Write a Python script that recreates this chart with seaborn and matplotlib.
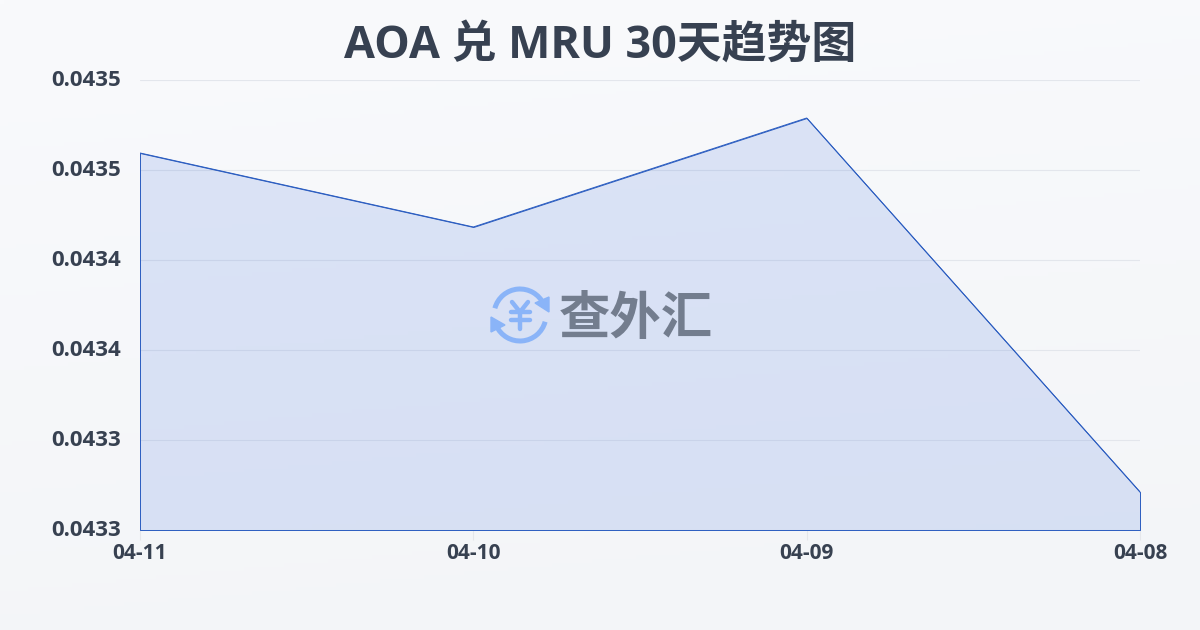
import numpy as np
import pandas as pd
import matplotlib
matplotlib.use("Agg")
import matplotlib.pyplot as plt
from matplotlib.patches import Arc, Polygon
from matplotlib.transforms import ScaledTranslation
import seaborn as sns

dates = ["04-11", "04-10", "04-09", "04-08"]
rates = [0.04346756, 0.04343467, 0.04348311, 0.04331689]
y_ticks = [0.04330, 0.04334, 0.04338, 0.04342, 0.04346, 0.04350]

title = "AOA 兑 MRU 30天趋势图"
watermark = "查外汇"
text_color = "#374151"
line_color = "#2a5cc0"

sns.set_theme(style="white")
plt.rcParams["font.family"] = ["Open Sans", "Noto Sans CJK SC", "DejaVu Sans"]

df = pd.DataFrame({"date": dates, "rate": rates})

fig = plt.figure(figsize=(12, 6.3), dpi=100)

# page background, light top to slightly darker bottom
bg = fig.add_axes([0, 0, 1, 1], zorder=0)
xx, yy = np.meshgrid(np.linspace(0, 1, 300), np.linspace(0, 1, 160))
t = (xx * 0.15 + yy * 0.85)[..., None]
bg.imshow(np.array([249, 250, 252]) / 255 * (1 - t) + np.array([243, 245, 248]) / 255 * t, aspect="auto")
bg.axis("off")

ax = fig.add_axes([140 / 1200, 1 - 530 / 630, 1000 / 1200, 450 / 630], zorder=1)
ax.patch.set_alpha(0)

ax.fill_between(range(len(dates)), rates, y_ticks[0], facecolor=(0.17, 0.38, 0.85, 0.14),
                edgecolor=line_color, linewidth=0.7, zorder=2)
sns.lineplot(data=df, x="date", y="rate", sort=False, color=line_color, linewidth=0.7, ax=ax, zorder=3)

ax.set_xlim(0, len(dates) - 1)
ax.set_ylim(y_ticks[0], y_ticks[-1])
ax.set_yticks(y_ticks)
ax.set_yticklabels([f"{v:.4f}" for v in y_ticks])
ax.set_xlabel("")
ax.set_ylabel("")
ax.grid(axis="y", color="#e3e6ec", linewidth=0.8, zorder=1)
ax.set_axisbelow(True)
sns.despine(ax=ax, left=True, right=True, top=True, bottom=True)

ax.tick_params(axis="y", length=0, pad=13.5, labelsize=16, labelcolor=text_color)
ax.tick_params(axis="x", length=7, width=0.8, color="#e5e7eb", pad=2.5, labelsize=15, labelcolor=text_color, bottom=True)
up = ScaledTranslation(0, 1.5 / 72, fig.dpi_scale_trans)
for lab in ax.get_yticklabels():
    lab.set_fontweight("bold")
    lab.set_transform(lab.get_transform() + up)
for lab in ax.get_xticklabels():
    lab.set_fontweight("bold")

fig.text(0.5, 1 - 46.5 / 630, title, ha="center", va="center", fontsize=32.3, fontweight="bold", color=text_color, zorder=5)

# watermark, logo drawn in pixel coordinates
wm = fig.add_axes([0, 0, 1, 1], zorder=4)
wm.set_xlim(0, 1200)
wm.set_ylim(630, 0)
wm.axis("off")
logo = "#8ab4f8"
wm.add_patch(Arc((520, 315), 52, 52, theta1=195, theta2=335, color=logo, linewidth=3.6))
wm.add_patch(Arc((520, 315), 52, 52, theta1=15, theta2=155, color=logo, linewidth=3.6))
wm.add_patch(Polygon([[549, 297], [549, 312], [535, 303]], color=logo))
wm.add_patch(Polygon([[491, 317], [491, 332], [505, 325]], color=logo))
for xs, ys in [([512, 520, 528], [302, 312, 302]), ([520, 520], [312, 329]),
               ([511, 530], [312, 312]), ([511, 530], [320, 320])]:
    wm.plot(xs, ys, color=logo, linewidth=3.2, solid_capstyle="round", solid_joinstyle="round")
wm.text(636, 321, watermark, ha="center", va="center", fontsize=37, fontweight="bold", color="#737d8e")

fig.savefig("out.png", dpi=100)
